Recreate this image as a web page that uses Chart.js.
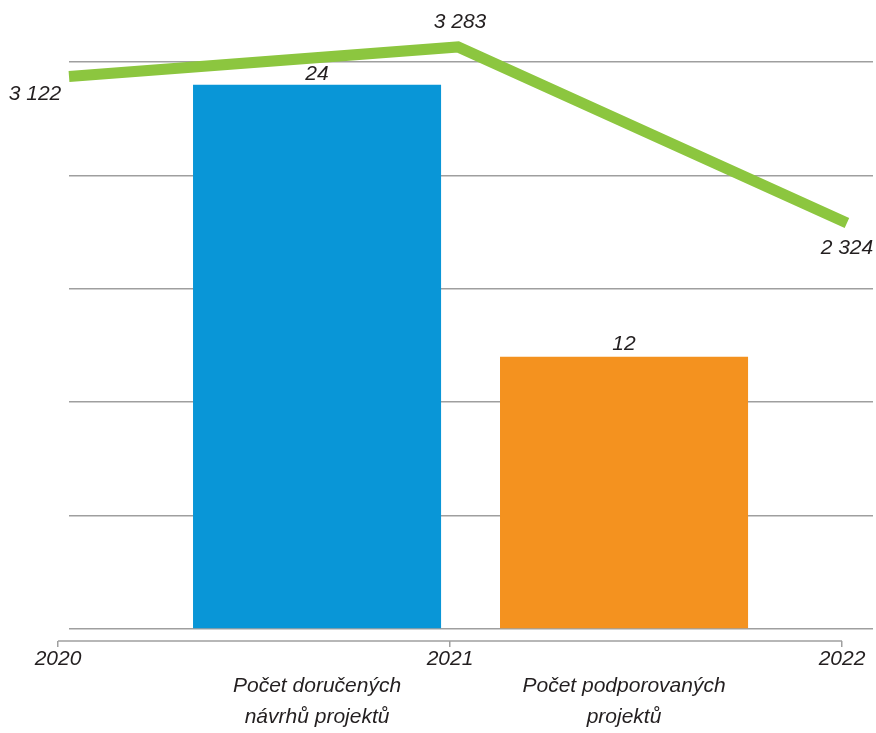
<!DOCTYPE html>
<html lang="cs">
<head>
<meta charset="utf-8">
<title>Projekty</title>
<script src="https://cdn.jsdelivr.net/npm/chart.js@4"></script>
<style>
    body { margin: 0; background: #fff; }
</style>
</head>
<body>
<canvas id="graf" width="876" height="733"></canvas>
<script>
const roky = [2020, 2021, 2022]
const zadosti = [3122, 3283, 2324]

const kategorie = [
    ['Počet doručených', 'návrhů projektů'],
    ['Počet podporovaných', 'projektů']
]
const pocty = [24, 12]
const barvySloupcu = ['#0996d7', '#f4921f']

const mrizka = [0, 5, 10, 15, 20, 25]

const pismo = { family: '"Liberation Sans", Arial, sans-serif', size: 21, style: 'italic' }
const barvaTextu = '#231f20'
const seda = '#9f9f9f'

function formatuj(cislo) {
    return String(cislo).replace(/\B(?=(\d{3})+(?!\d))/g, ' ')
}

// popisky hodnot nad sloupci a u bodu cary
const popisky = {
    id: 'popisky',
    afterDatasetsDraw(chart, args, opts) {
        const ctx = chart.ctx
        ctx.save()
        ctx.font = 'italic 21px "Liberation Sans", Arial, sans-serif'
        ctx.fillStyle = barvaTextu
        ctx.textAlign = 'center'
        ctx.textBaseline = 'middle'
        chart.data.datasets.forEach((dataset, i) => {
            const meta = chart.getDatasetMeta(i)
            const posuny = opts[meta.type]
            meta.data.forEach((prvek, j) => {
                const posun = posuny[j]
                ctx.fillText(formatuj(dataset.data[j].y), prvek.x + posun[0], prvek.y + posun[1])
            })
        })
        ctx.restore()
    }
}

// osa s roky konci u prvniho a posledniho roku
const osaRoku = {
    id: 'osaRoku',
    afterDraw(chart) {
        const osa = chart.scales.xRok
        const ctx = chart.ctx
        ctx.save()
        ctx.strokeStyle = seda
        ctx.lineWidth = 1.5
        ctx.beginPath()
        ctx.moveTo(osa.getPixelForValue(roky[0]), osa.top)
        ctx.lineTo(osa.getPixelForValue(roky[roky.length - 1]), osa.top)
        ctx.stroke()
        ctx.restore()
    }
}

const graf = document.getElementById('graf')

const grafProjektu = new Chart(graf, {
    type: 'bar',
    data: {
        datasets: [{
            type: 'line',
            label: 'Žádosti',
            data: roky.map((rok, i) => ({ x: rok, y: zadosti[i] })),
            xAxisID: 'xCara',
            yAxisID: 'yCara',
            borderColor: '#8cc63f',
            borderWidth: 11,
            borderJoinStyle: 'miter',
            borderCapStyle: 'butt',
            pointRadius: 0,
            tension: 0,
            clip: false
        }, {
            label: 'Projekty',
            data: pocty.map((pocet, i) => ({ x: i, y: pocet })),
            xAxisID: 'xSloupce',
            yAxisID: 'ySloupce',
            backgroundColor: barvySloupcu,
            grouped: false,
            categoryPercentage: 1,
            barPercentage: 0.808
        }]
    },
    options: {
        responsive: false,
        animation: false,
        layout: { padding: { left: 69, right: 3, top: 62, bottom: 0 } },
        plugins: {
            legend: { display: false },
            tooltip: { enabled: false },
            popisky: {
                bar: [[0, -11], [0, -13]],
                line: [[-34, 18], [2, -25], [0, 25]]
            }
        },
        scales: {
            xCara: {
                type: 'linear',
                display: false,
                offset: false,
                grid: { offset: false },
                min: 2020,
                max: 2022.067
            },
            yCara: {
                type: 'linear',
                display: false,
                min: 46,
                max: 3201
            },
            ySloupce: {
                type: 'linear',
                position: 'left',
                min: -0.529,
                max: 25,
                afterBuildTicks: osa => { osa.ticks = mrizka.map(v => ({ value: v })) },
                afterFit: osa => { osa.width = 0 },
                ticks: { display: false },
                border: { display: false },
                grid: { color: seda, lineWidth: 1.5, drawTicks: false }
            },
            xRok: {
                type: 'linear',
                position: 'bottom',
                weight: 1,
                offset: false,
                min: 2020.028,
                max: 2022.079,
                afterBuildTicks: osa => { osa.ticks = roky.map(r => ({ value: r })) },
                afterFit: osa => { osa.height = 30 },
                border: { display: false },
                grid: { offset: false, drawOnChartArea: false, color: seda, lineWidth: 1.5, tickLength: 6 },
                ticks: {
                    autoSkip: false,
                    maxRotation: 0,
                    padding: 0,
                    color: barvaTextu,
                    font: pismo,
                    callback: v => String(v)
                }
            },
            xSloupce: {
                type: 'linear',
                position: 'bottom',
                weight: 2,
                offset: false,
                min: -0.808,
                max: 1.811,
                afterBuildTicks: osa => { osa.ticks = kategorie.map((k, i) => ({ value: i })) },
                afterFit: osa => { osa.height = 62 },
                border: { display: false },
                grid: { offset: false, display: false, drawTicks: false },
                ticks: {
                    autoSkip: false,
                    maxRotation: 0,
                    padding: 0,
                    color: barvaTextu,
                    font: { ...pismo, lineHeight: 1.48 },
                    callback: v => kategorie[v]
                }
            }
        }
    },
    plugins: [popisky, osaRoku]
})
</script>
</body>
</html>
